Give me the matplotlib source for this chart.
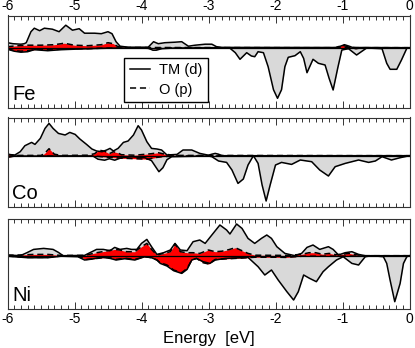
import matplotlib as mpl

mpl.use('Agg')

import matplotlib.pyplot as plt
from matplotlib.lines import Line2D
from matplotlib.ticker import MultipleLocator

plt.rcParams['font.family'] = ['Liberation Sans', 'DejaVu Sans']

# ---- Fe ----
fe_tm_up_e = [-6.0, -5.92, -5.8, -5.75, -5.72, -5.65, -5.6, -5.52, -5.45, -5.33,
              -5.23, -5.13, -5.03, -4.93, -4.85, -4.7, -4.6, -4.5, -4.44, -4.38,
              -4.32, -4.2, -3.9, -3.82, -3.75, -3.65, -3.5, -3.4, -3.3, -3.2,
              -3.05, -2.95, -2.88, -2.8, -1.1, -1.03, -0.97, -0.9, -0.85, 0.0]
fe_tm_up = [5, 4, 3.5, 4, 5, 16, 19.5, 17, 19.5, 18.5,
            16, 22.5, 17.5, 19, 14.5, 14.5, 14, 16, 14, 6,
            1.5, 0.5, 0.5, 6, 4, 5, 5.5, 6, 1.5, 2.5,
            3.5, 3.5, 1, 0.3, 0.2, 1.5, 3, 1.5, 0.2, 0]
fe_tm_dn_e = [-6.0, -5.9, -5.8, -5.7, -5.6, -5.5, -5.4, -5.2, -5.0, -4.8,
              -4.5, -4.2, -3.9, -3.83, -3.78, -3.7, -3.5, -2.75, -2.68, -2.6,
              -2.53, -2.43, -2.36, -2.31, -2.26, -2.18, -2.11, -2.03, -1.97, -1.91,
              -1.86, -1.81, -1.71, -1.63, -1.58, -1.53, -1.44, -1.36, -1.26, -1.2,
              -1.14, -1.07, -1.01, -0.91, -0.79, -0.64, -0.41, -0.34, -0.29, -0.19,
              -0.12, -0.04, 0.0]
fe_tm_dn = [-1.5, -3.5, -4.5, -4, -2, -2.5, -3, -2, -1.5, -1,
            -0.5, -0.3, -0.5, -2.5, -2.5, -1, -0.3, 0, -0.5, -5,
            -11.6, -5, -8.3, -9, -4, -5, -19, -42, -50.6, -42,
            -19, -9.6, -8, -4, -10.7, -25, -11.6, -15.6, -17.3, -30.6,
            -42.3, -20, -2.3, -1, -7.3, -0.3, -1, -15.6, -21.6, -21.6,
            -12.3, -0.6, 0]
fe_o_up_e = [-6.0, -5.85, -5.7, -5.5, -5.3, -5.2, -5.15, -5.08, -5.0, -4.8,
             -4.6, -4.5, -4.42, -4.35, -4.2, -1.1, -1.0, -0.9, -0.8, 0.0]
fe_o_up = [1, 2, 2.5, 2.5, 3, 4, 4.5, 3.5, 2.5, 2,
           3, 5, 4, 1, 0.2, 0, 2.5, 0.5, 0, 0]
fe_o_dn_e = [-6.0, -5.9, -5.8, -5.7, -5.55, -5.4, -5.2, -5.0, -4.8, -4.6,
             -4.4, -4.0, -3.8, -3.6, -0.9, -0.8, -0.7, 0.0]
fe_o_dn = [-1, -3, -3.5, -3, -1.5, -2, -1.5, -1, -1, -0.5,
           -0.3, -0.3, -1, -0.3, 0, -1, 0, 0]

# ---- Co ----
co_tm_up_e = [-6.0, -5.89, -5.81, -5.74, -5.64, -5.59, -5.51, -5.44, -5.38, -5.32,
              -5.24, -5.14, -5.07, -4.99, -4.92, -4.82, -4.74, -4.67, -4.59, -4.52,
              -4.47, -4.42, -4.35, -4.27, -4.2, -4.12, -4.05, -4.0, -3.92, -3.85,
              -3.77, -3.7, -3.62, -3.47, -3.38, -3.25, -3.13, -3.0, -2.95, -2.9,
              -2.85, -2.8, 0.0]
co_tm_up = [1.3, 0.7, 4, 10, 13.3, 11.3, 17.3, 27.3, 32.3, 27.3,
            22.3, 20.7, 23.3, 21.3, 16.7, 11.3, 6.7, 4.7, 4, 5.7,
            7.3, 4.7, 7.3, 13.3, 14.7, 20.7, 30, 25.7, 14, 7.3,
            6.7, 5.7, 0.7, 1.3, 5.7, 5.7, 2.3, 0.5, 1.5, 2.3,
            1.5, 0, 0]
co_tm_dn_e = [-6.0, -5.9, -4.72, -4.65, -4.55, -4.48, -4.4, -4.3, -4.15, -3.95,
              -3.85, -3.78, -3.74, -3.68, -3.62, -3.55, -3.0, -2.95, -2.85, -2.73,
              -2.65, -2.56, -2.48, -2.41, -2.33, -2.26, -2.2, -2.14, -2.08, -2.0,
              -1.91, -1.76, -1.63, -1.46, -1.34, -1.21, -1.11, -0.96, -0.76, -0.61,
              -0.51, -0.41, -0.27, -0.14, 0.0]
co_tm_dn = [-1, -0.3, -0.5, -3.5, -4.5, -3, -4.5, -2, -1, -2,
            -5, -12, -16, -12, -4, -1, -0.3, -1, -5.3, -6.7,
            -14.3, -27.7, -23.3, -9.3, 0, -7.7, -29.3, -45.3, -29.3, -9.3,
            -6.7, -8.7, -4.3, -6, -14.3, -20.3, -11, -7.7, -4.3, -6.7,
            -5.3, -1, -4.3, -2, 0]
co_o_up_e = [-6.0, -5.9, -5.5, -5.45, -5.38, -5.3, -5.2, -4.8, -4.7, -4.63,
             -4.55, -4.48, -4.42, -4.36, -4.3, -4.1, -3.85, -3.75, -3.65, -3.5, 0.0]
co_o_up = [1.5, 0.3, 0.3, 2, 7, 1.5, 0.3, 0.5, 2, 5.5,
           4.5, 2, 4, 3, 1, 0.5, 2, 3, 1.5, 0.3, 0]
co_o_dn_e = [-6.0, -5.9, -5.0, -4.7, -4.5, -4.3, -4.1, -3.9, -3.8, -3.7, -3.5, 0.0]
co_o_dn = [-1.5, -0.5, -0.3, -0.5, -1.5, -2.5, -3, -3.5, -2, -1, -0.3, 0]

# ---- Ni ----
ni_tm_up_e = [-6.0, -5.81, -5.71, -5.61, -5.46, -5.32, -5.24, -5.17, -4.85, -4.77,
              -4.67, -4.57, -4.47, -4.4, -4.32, -4.22, -4.15, -4.07, -4.0, -3.92,
              -3.85, -3.77, -3.67, -3.57, -3.5, -3.42, -3.32, -3.23, -3.13, -3.05,
              -2.95, -2.83, -2.73, -2.68, -2.58, -2.5, -2.41, -2.31, -2.21, -2.13,
              -2.06, -1.98, -1.86, -1.71, -1.61, -1.53, -1.44, -1.34, -1.21, -1.14,
              -1.06, -0.96, -0.86, -0.76, -0.66, 0.0]
ni_tm_up = [0.7, 0, 3, 6.3, 7.3, 6.3, 3.3, 0, 0.3, 3,
            6.3, 6.3, 5, 8.3, 6.3, 7.3, 6.3, 6.3, 12.3, 16.3,
            9, 1.3, 3, 5.7, 12.3, 5.7, 5, 14, 15.7, 12.3,
            20.7, 30.7, 25.7, 21.7, 31.7, 27.3, 17.3, 12.3, 17.3, 20.7,
            17.3, 9, 2.3, 0, 2.3, 8.3, 10.7, 6.3, 9, 6.3,
            0.7, 3, 4, 1.3, 0, 0]
ni_tm_dn_e = [-6.0, -5.7, -5.4, -5.2, -4.95, -4.85, -4.75, -4.6, -4.47, -4.38,
              -4.25, -4.1, -3.95, -3.85, -3.77, -3.72, -3.62, -3.52, -3.4, -3.32,
              -3.25, -3.18, -3.08, -2.98, -2.9, -2.75, -2.41, -2.26, -2.16, -2.06,
              -1.96, -1.83, -1.73, -1.66, -1.58, -1.49, -1.39, -1.29, -1.21, -1.09,
              -0.99, -0.86, -0.76, -0.66, -0.56, -0.39, -0.34, -0.29, -0.22, -0.14,
              -0.09, -0.04, 0.0]
ni_tm_dn = [-0.5, -2, -2, -0.5, -1, -4.3, -3.5, -1.5, -2.7, -4.3,
            -3, -4.3, -1, -2, -4.3, -7.7, -10.3, -15, -17.7, -13.7,
            -4.3, -2.7, -6, -7.7, -4.3, -2.7, -1.7, -11, -19.3, -14.3,
            -24.3, -36, -44.3, -36, -19.3, -22.7, -26, -16, -11, -4.3,
            -1, -7.7, -9.3, -1, 0, -1, -7.7, -24.3, -46, -27.7,
            -7.7, -1, 0]
ni_o_up_e = [-6.0, -5.6, -5.4, -5.2, -4.85, -4.67, -4.5, -4.4, -4.32, -4.22,
             -4.1, -4.0, -3.92, -3.85, -3.77, -3.67, -3.57, -3.5, -3.42, -3.32,
             -3.23, -3.13, -3.0, -2.9, -2.8, -2.7, -2.6, -2.5, -2.41, -2.3,
             -1.8, -1.6, -1.5, -1.4, -1.3, -1.2, -1.1, -1.0, -0.9, -0.8,
             -0.7, 0.0]
ni_o_up = [0.3, 1.3, 1.3, 0.3, 0.3, 3, 5, 6.3, 5.7, 4,
           4, 9, 12.3, 6.3, 0.7, 2.3, 4, 11.7, 4, 3,
           3, 2.3, 5.7, 4, 4.5, 6, 8, 5, 2.3, 0.5,
           0.3, 1.5, 3, 3, 1.5, 2.3, 1, 1.5, 2.3, 1,
           0, 0]
ni_o_dn_e = [-6.0, -5.7, -5.4, -5.2, -4.95, -4.82, -4.7, -4.5, -4.38, -4.25,
             -4.1, -3.95, -3.85, -3.77, -3.72, -3.62, -3.52, -3.4, -3.32, -3.25,
             -3.18, -3.08, -3.0, -2.95, -2.9, -2.6, -2.3, -2.0, -1.85, -1.6,
             -1.0, 0.0]
ni_o_dn = [-0.3, -1.7, -1.7, -0.3, -0.5, -3.7, -3, -1.5, -3.7, -2.5,
           -3.7, -1, -2, -4.3, -7, -9.3, -14.3, -17, -12.7, -4.3,
           -2.7, -7, -8.3, -6, -3.7, -2.7, -1.5, -1.5, -1.7, -0.5,
           -0.5, 0]

panels = [
    ("Fe", fe_tm_up_e, fe_tm_up, fe_tm_dn_e, fe_tm_dn,
     fe_o_up_e, fe_o_up, fe_o_dn_e, fe_o_dn, (-60.3, 32.2), (15.5, 108)),
    ("Co", co_tm_up_e, co_tm_up, co_tm_dn_e, co_tm_dn,
     co_o_up_e, co_o_up, co_o_dn_e, co_o_dn, (-51.3, 38.2), (117.5, 207)),
    ("Ni", ni_tm_up_e, ni_tm_up, ni_tm_dn_e, ni_tm_dn,
     ni_o_up_e, ni_o_up, ni_o_dn_e, ni_o_dn, (-53.3, 37.2), (218.5, 309)),
]

W, H = 415, 348
fig = plt.figure(figsize=(W / 100, H / 100), dpi=100)

x0, x1 = 7.5, 409.5
for i, (name, tue, tu, tde, td, oue, ou, ode, od, ylim, (ytop, ybot)) in enumerate(panels):
    ax = fig.add_axes([x0 / W, 1 - ybot / H, (x1 - x0) / W, (ybot - ytop) / H])
    for e, v in ((tue, tu), (tde, td)):
        ax.fill_between(e, v, 0, color='#d9d9d9', lw=0)
    for e, v in ((oue, ou), (ode, od)):
        ax.fill_between(e, v, 0, color='red', lw=0)
    for e, v in ((tue, tu), (tde, td)):
        ax.plot(e, v, color='black', lw=1.1)
    for e, v in ((oue, ou), (ode, od)):
        ax.plot(e, v, color='black', lw=1.1, dashes=(4, 2.5))
    ax.axhline(0, color='black', lw=0.9)

    ax.set_xlim(-6, 0)
    ax.set_ylim(*ylim)
    ax.set_yticks([])
    ax.xaxis.set_major_locator(MultipleLocator(1))
    ax.xaxis.set_minor_locator(MultipleLocator(0.1))
    ax.tick_params(axis='x', which='both', direction='in', top=True, bottom=True,
                   labelsize=10, pad=2, width=0.7, color='#333333')
    ax.tick_params(axis='x', which='major', length=5)
    ax.tick_params(axis='x', which='minor', length=3)
    for s in ax.spines.values():
        s.set_linewidth(0.8)
        s.set_color('#333333')
    ax.xaxis.set_major_formatter(plt.FuncFormatter(lambda v, p: "%d" % round(v)))

    if i == 0:
        ax.tick_params(axis='x', labeltop=True, labelbottom=False)
        handles = [Line2D([], [], color='black', lw=1.1),
                   Line2D([], [], color='black', lw=1.1, dashes=(4, 2.5))]
        ax.legend(handles, ["TM (d)", "O (p)"], loc='upper left',
                  bbox_to_anchor=(0.29, 0.545), fontsize=10.5, frameon=True,
                  fancybox=False, edgecolor='black', framealpha=1,
                  handlelength=1.4, handletextpad=0.6, borderpad=0.4,
                  labelspacing=0.35, borderaxespad=0)
    elif i == 1:
        ax.tick_params(axis='x', labeltop=False, labelbottom=False)
    else:
        ax.set_xlabel("Energy  [eV]", fontsize=12, labelpad=4)

    ax.text(0.012, 0.04, name, transform=ax.transAxes, fontsize=14.5,
            ha='left', va='bottom')

fig.savefig('out.png', dpi=100)
